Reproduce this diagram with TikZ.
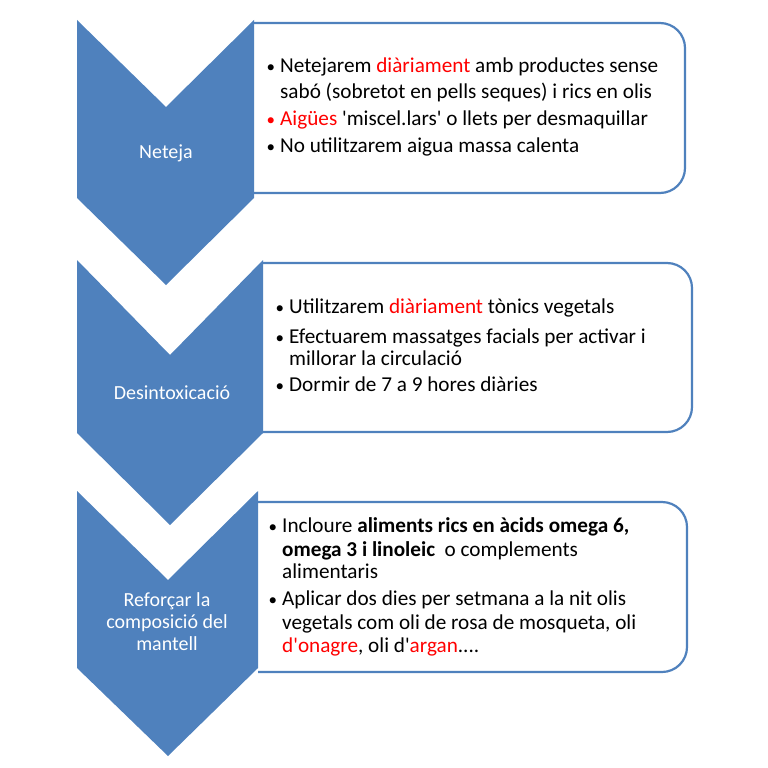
\documentclass[tikz,border=0pt]{standalone}
\usepackage{fontspec}
\setmainfont{Carlito}[Ligatures=TeXOff]
\usepackage{xcolor}
\usepackage{tikz}
\definecolor{blau}{HTML}{4F81BD}
\newcommand{\vermell}[1]{\textcolor{red}{#1}}
\newcommand{\bala}{\llap{{\fontsize{17}{17}\selectfont\textbullet}\hspace{5pt}}}
\newcommand{\balavermella}{\llap{\vermell{\fontsize{17}{17}\selectfont\textbullet}\hspace{5pt}}}

\begin{document}
\begin{tikzpicture}[x=1pt, y=-1pt,
        fletxa/.style={fill=blau, draw=none},
        caixa/.style={draw=blau, line width=2.2pt, fill=white, rounded corners=25pt},
        etiq/.style={text=white, font=\fontsize{20}{22}\selectfont, align=center, inner sep=0pt},
        linia/.style={anchor=base west, inner sep=0pt, font=\fontsize{21.2}{24}\selectfont}]
    \useasboundingbox (0,0) rectangle (768,768);
    % caixes de text
    \draw[caixa] (254,23) -- (685,23) -- (685,193) -- (254,193);
    \draw[caixa] (263,263) -- (692,263) -- (692,432) -- (263,432);
    \draw[caixa] (258,502) -- (687,502) -- (687,672) -- (258,672);
    % fletxes
    \fill[fletxa] (77,20) -- (166,107) -- (254,20) -- (254,198) -- (166,285) -- (77,198) -- cycle;
    \fill[fletxa] (77,260) -- (170,355) -- (263,260) -- (263,433) -- (170,525) -- (77,433) -- cycle;
    \fill[fletxa] (77,491) -- (168,580) -- (258,491) -- (258,668) -- (168,756) -- (77,668) -- cycle;
    \node[etiq, anchor=base] (neteja) at (166,158) {Neteja};
    \node[etiq, anchor=base] (desintox) at (172,399) {Desintoxicació};
    \node[etiq] (reforcar) at (167,622) {Reforçar la\\composició del\\mantell};
    % neteja
    \node[linia] (n1) at (280,73) {\bala Netejarem \vermell{diàriament} amb productes sense};
    \node[linia] (n2) at (280,98) {sabó (sobretot en pells seques) i rics en olis};
    \node[linia] (n3) at (280,125) {\balavermella\vermell{Aigües} 'miscel.lars' o llets per desmaquillar};
    \node[linia] (n4) at (280,152) {\bala No utilitzarem aigua massa calenta};
    % desintoxicacio
    \node[linia] (d1) at (289,313) {\bala Utilitzarem \vermell{diàriament} tònics vegetals};
    \node[linia] (d2) at (289,343) {\bala Efectuarem massatges facials per activar i};
    \node[linia] (d3) at (289,365) {millorar la circulació};
    \node[linia] (d4) at (289,391) {\bala Dormir de 7 a 9 hores diàries};
    % reforcar
    \node[linia] (r1) at (282,532) {\bala Incloure \textbf{aliments rics en àcids omega 6,}};
    \node[linia] (r2) at (282,556) {\textbf{omega 3 i linoleic}\ \ o complements};
    \node[linia] (r3) at (282,578) {alimentaris};
    \node[linia] (r4) at (282,605) {\bala Aplicar dos dies per setmana a la nit olis};
    \node[linia] (r5) at (282,629) {vegetals com oli de rosa de mosqueta, oli};
    \node[linia] (r6) at (282,652) {\vermell{d'onagre}, oli d'\vermell{argan}....};
\end{tikzpicture}
\end{document}
